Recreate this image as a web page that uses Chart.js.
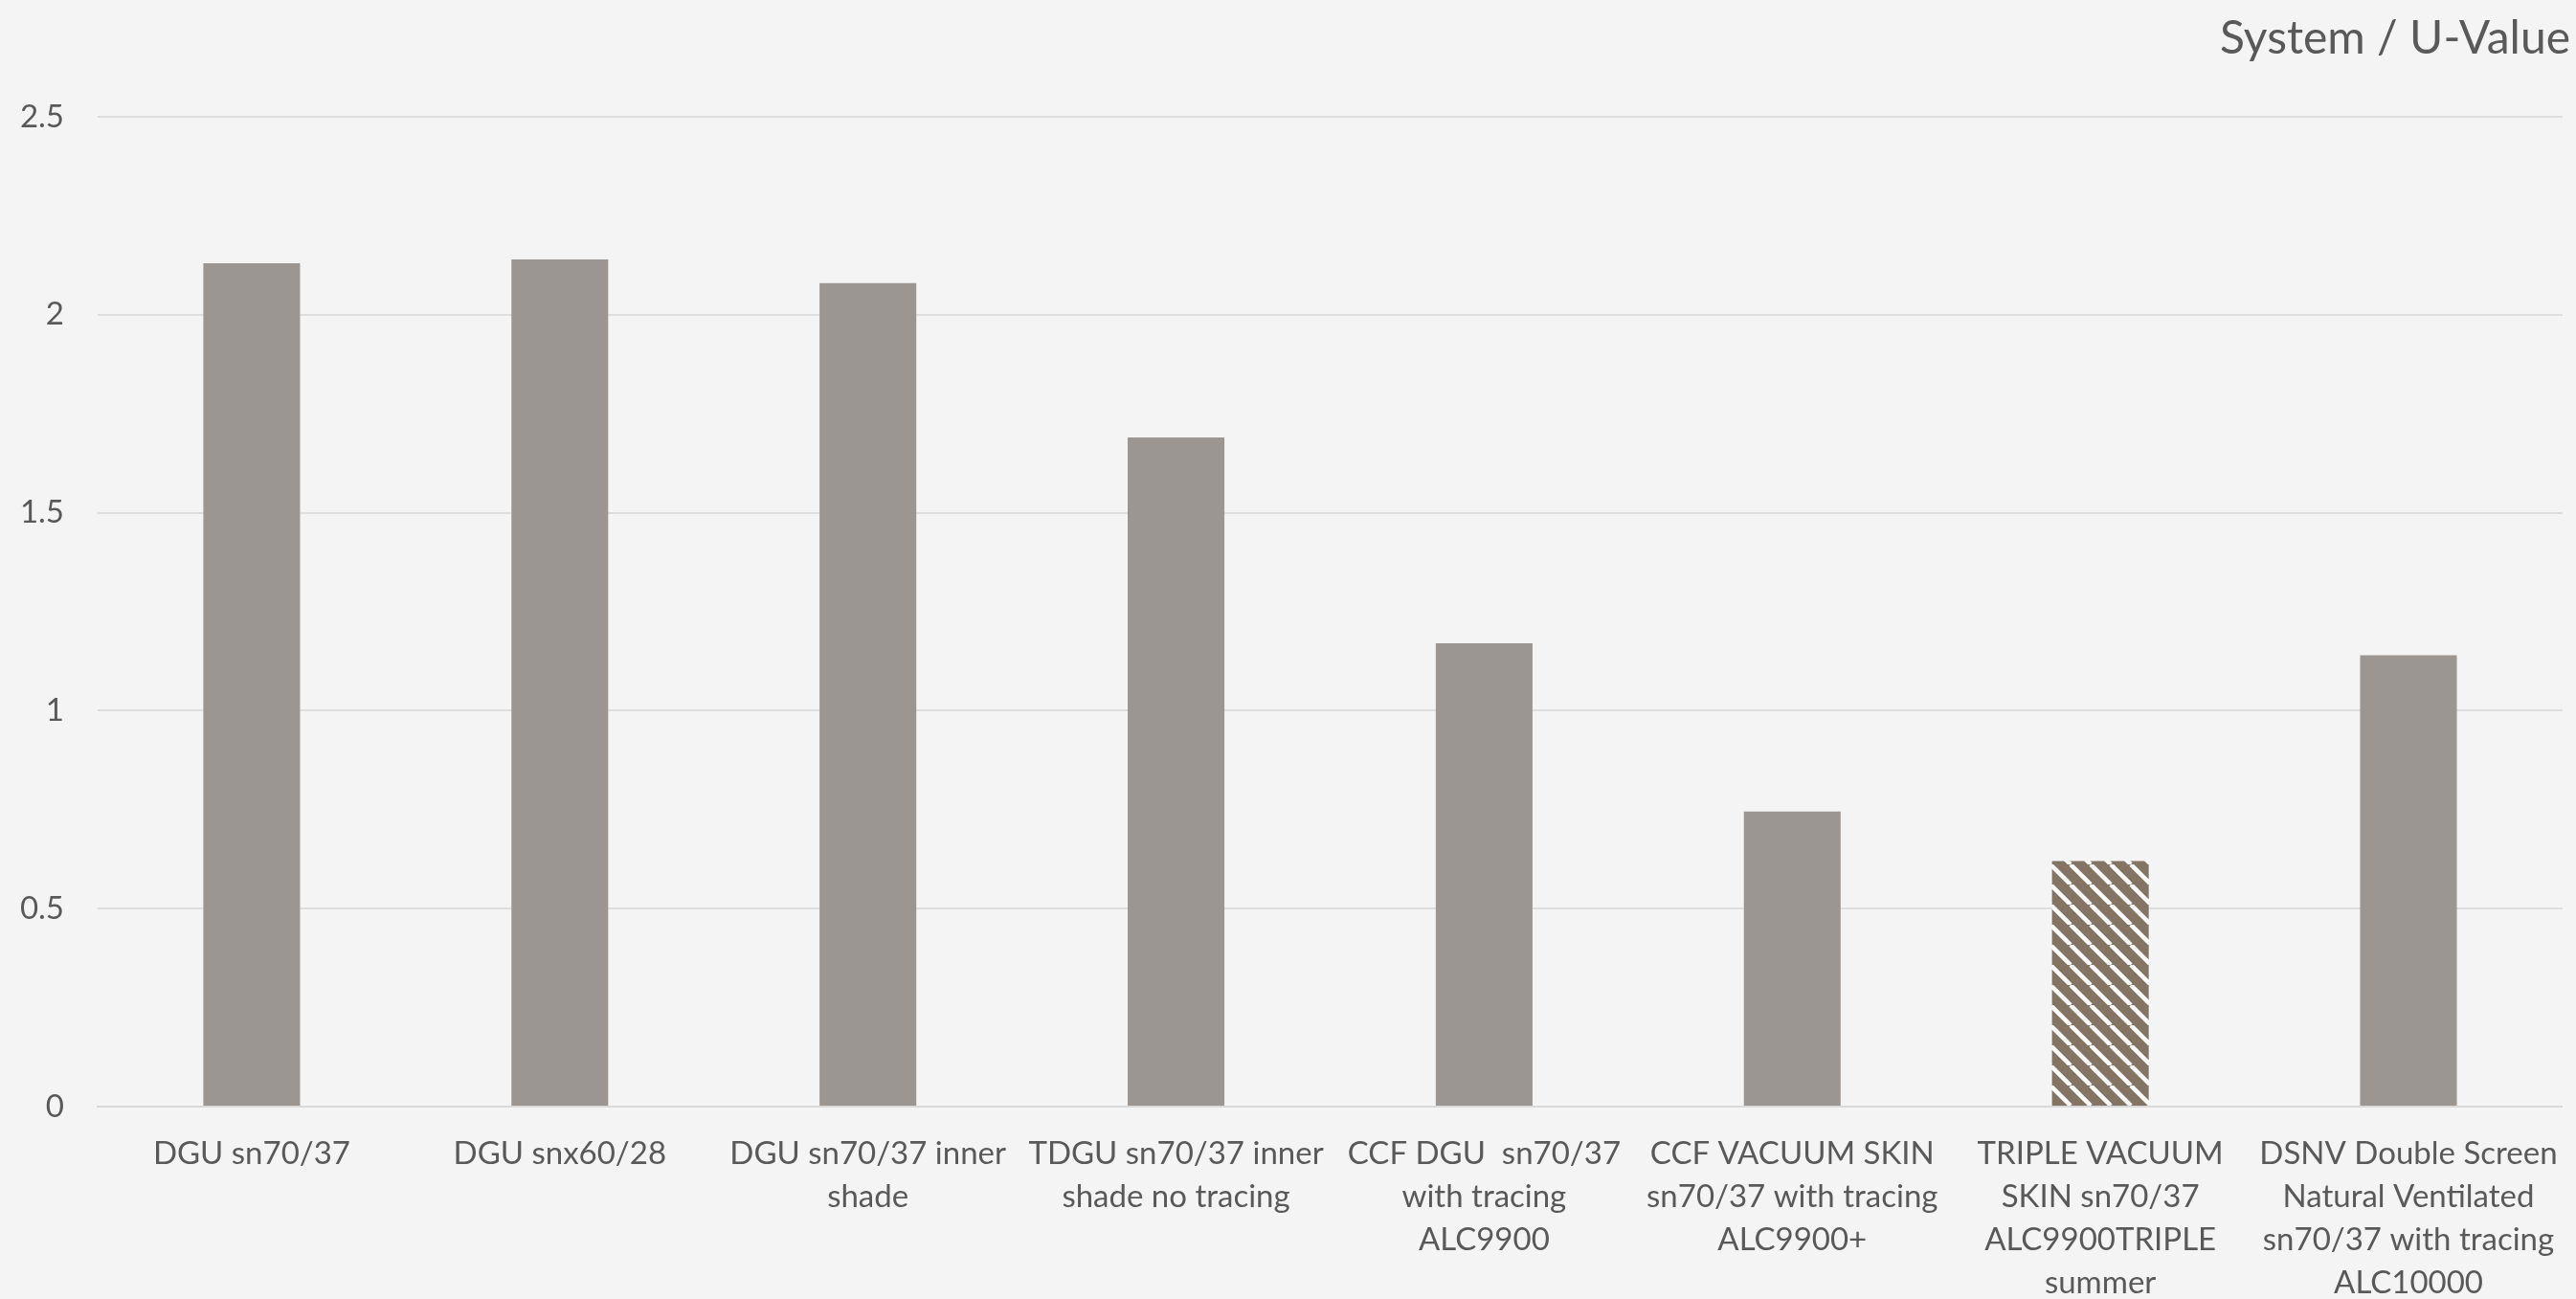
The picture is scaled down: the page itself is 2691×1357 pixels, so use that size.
<!DOCTYPE html>
<html>
<head>
<meta charset="utf-8">
<script src="https://cdn.jsdelivr.net/npm/chart.js@4.4.1/dist/chart.umd.min.js"></script>
<style>
  html, body { margin: 0; padding: 0; background: #F4F4F4; }
  #wrap { width: 2691px; height: 1357px; }
</style>
</head>
<body>
<div id="wrap"><canvas id="c" width="2691" height="1357"></canvas></div>
<script>
// Systems compared, one category per glazing/facade system (wrapped lines)
const categories = [
  ['DGU sn70/37'],
  ['DGU snx60/28'],
  ['DGU sn70/37 inner', 'shade'],
  ['TDGU sn70/37 inner', 'shade no tracing'],
  ['CCF DGU  sn70/37', 'with tracing', 'ALC9900'],
  ['CCF VACUUM SKIN', 'sn70/37 with tracing', 'ALC9900+'],
  ['TRIPLE VACUUM', 'SKIN sn70/37', 'ALC9900TRIPLE', 'summer'],
  ['DSNV Double Screen', 'Natural Ventilated', 'sn70/37 with tracing', 'ALC10000']
];

// U-values (W/m²K) for each system
const uValues = [2.13, 2.14, 2.08, 1.69, 1.17, 0.745, 0.62, 1.14];

// Value axis ticks
const yTicks = [0, 0.5, 1, 1.5, 2, 2.5];

// The triple vacuum skin system is drawn with a diagonal hatch
const hatchedSystem = 'TRIPLE VACUUM';

const FONT = 'Lato, "Open Sans", sans-serif';
const TEXT = '#595959';

function diagonalHatch(fg, stripe) {
  const s = 21;
  const c = document.createElement('canvas');
  c.width = s; c.height = s;
  const g = c.getContext('2d');
  g.fillStyle = fg;
  g.fillRect(0, 0, s, s);
  g.strokeStyle = stripe;
  g.lineWidth = 4.5;
  for (let k = -1; k <= 1; k++) {
    g.beginPath();
    g.moveTo(k * s, 0);
    g.lineTo(k * s + s, s);
    g.stroke();
  }
  return g.createPattern(c, 'repeat');
}

const ctx = document.getElementById('c').getContext('2d');
const hatch = diagonalHatch('#847464', '#FAFAFA');
const fills = categories.map(c => c[0] === hatchedSystem ? hatch : '#9B9691');

new Chart(ctx, {
  type: 'bar',
  data: {
    labels: categories,
    datasets: [{
      data: uValues,
      backgroundColor: fills,
      borderWidth: 0,
      categoryPercentage: 1,
      barPercentage: 0.314
    }]
  },
  options: {
    responsive: false,
    animation: false,
    layout: { padding: { left: 0, right: 6, top: 0, bottom: 0 } },
    plugins: {
      legend: { display: false },
      tooltip: { enabled: false },
      title: {
        display: true,
        text: 'System / U-Value',
        align: 'end',
        color: TEXT,
        font: { family: FONT, size: 48, weight: 'normal', lineHeight: 1.2 },
        padding: { top: 12, bottom: 52.4 }
      }
    },
    scales: {
      x: {
        grid: { display: false },
        border: { display: true, color: '#D9D9D9', width: 2 },
        ticks: {
          color: TEXT,
          font: { family: FONT, size: 33, lineHeight: 1.364 },
          padding: 19,
          maxRotation: 0,
          minRotation: 0,
          autoSkip: false
        },
        afterFit: s => { s.height = 201; }
      },
      y: {
        min: 0,
        max: 2.5,
        grid: { color: '#DEDEDE', lineWidth: 2, drawTicks: false },
        border: { display: false },
        afterBuildTicks: s => { s.ticks = yTicks.map(v => ({ value: v })); },
        ticks: {
          color: TEXT,
          font: { family: FONT, size: 33 },
          padding: 35,
          callback: v => String(v)
        },
        afterFit: s => { s.width = 102; }
      }
    }
  }
});
</script>
</body>
</html>
